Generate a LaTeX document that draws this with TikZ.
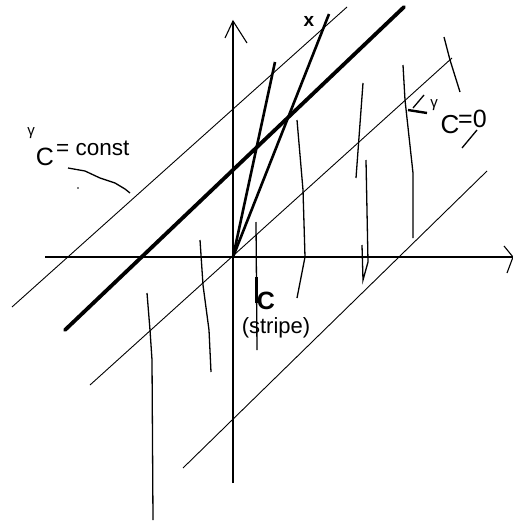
\documentclass[tikz,border=0pt]{standalone}
\usepackage{fontspec}
\setmainfont{Liberation Sans}
\begin{document}
\begin{tikzpicture}[x=1pt,y=-1pt,
  thinline/.style={line width=0.9pt},
  axisline/.style={line width=1.1pt},
  heavyline/.style={line width=3.8pt,line cap=round},
  steepline/.style={line width=2.6pt},
  stroke/.style={line width=1.3pt},
  lbl/.style={inner sep=0pt,font=\fontsize{22.5}{22.5}\selectfont}]
\useasboundingbox (0,0) rectangle (513,527);
\coordinate (O) at (233,257);
% axes
\coordinate (xa) at (45,257); \coordinate (xb) at (513,257);
\coordinate (ya) at (233,483); \coordinate (yb) at (233,21);
\draw[axisline] (xa) -- (xb);
\draw[axisline] (504,246) -- (xb) -- (507,273);
\draw[axisline] (ya) -- (yb);
\draw[axisline] (225,38) -- (yb) -- (247,43);
% diagonal thin lines
\draw[thinline] (12,307) -- (347,7);
\draw[thinline] (90,385) -- (452,58);
\draw[thinline] (183,468) -- (487,171);
% thick line
\draw[heavyline] (65,330) -- (404,7);
% steep lines from origin
\coordinate (s1) at (275,62); \coordinate (s2) at (329,14);
\draw[steepline] (O) -- (s1);
\draw[steepline] (O) -- (s2);
% vertical hand-drawn strokes
\draw[stroke] (147,293) -- (150,330) -- (152,360) -- (153,520);
\draw[stroke] (200,240) -- (203,285) -- (209,330) -- (211,372);
\draw[stroke] (256,222) -- (257,350);
\draw[line width=3pt] (256,277) -- (256,303);
\draw[stroke] (297,120) -- (303,190) -- (305,257) -- (297,298);
\draw[stroke] (363,83) -- (356,178);
\draw[stroke] (366,160) -- (368,262) -- (363,280) -- (362,245);
\draw[stroke] (403,65) -- (405,100) -- (413,173) -- (413,238);
\draw[stroke] (444,37) -- (450,60) -- (460,92);
% labels
\node[lbl,font=\fontsize{19}{19}\selectfont\bfseries] (xl) at (309,21) {x};
\node[lbl,font=\fontsize{15}{15}\selectfont] (g1) at (31,133) {γ};
\node[lbl,font=\fontsize{25}{25}\selectfont] (c1) at (45,157) {C};
\node[lbl,anchor=west] (k1) at (56,148) {= const};
\draw[stroke] (68,168) -- (85,171) -- (100,178) -- (115,183) -- (125,189) -- (130,193);
\fill (78,188) circle (0.9);
% angle gamma_C = 0
\draw[stroke] (413,108) -- (424,95);
\draw[line width=2.4pt] (408,110) -- (427,113);
\node[lbl,font=\fontsize{15}{15}\selectfont] (g2) at (434,105) {γ};
\node[lbl,font=\fontsize{26}{26}\selectfont] (c2) at (450,125) {C};
\node[lbl,font=\fontsize{25}{25}\selectfont,anchor=west] (z2) at (458,119) {=0};
\draw[stroke] (462,148) -- (477,130);
% C (stripe)
\node[lbl,font=\fontsize{25}{25}\selectfont\bfseries] (c3) at (266,301) {C};
\node[lbl,font=\fontsize{22}{22}\selectfont] (st) at (276,328) {(stripe)};
\end{tikzpicture}
\end{document}
